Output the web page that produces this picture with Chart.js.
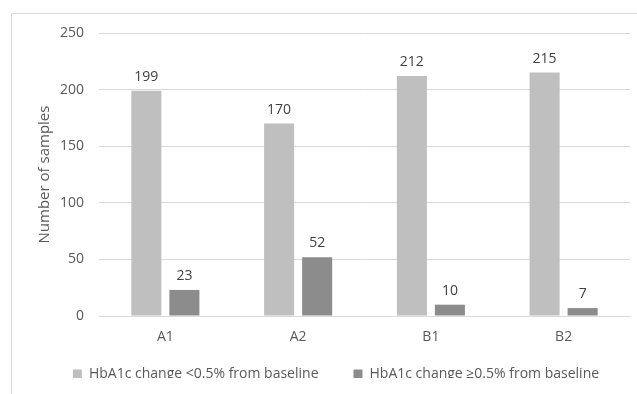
<!doctype html>
<html>
  <head>
    <title>HbA1c change by group</title>
    <style>
      body { margin: 0; background: #fff; }
      #wrap { position: relative; width: 637px; height: 394px; overflow: hidden; }
      #frame { position: absolute; left: 11px; top: 13px; width: 700px; height: 500px; border: 1px solid #d9d9d9; }
      #bar_chart { position: absolute; left: 0; top: 0; }
    </style>
  </head>
  <body>
    <div id="wrap">
      <div id="frame"></div>
      <canvas id="bar_chart" width="637" height="394"></canvas>
    </div>
  </body>
  <script src="https://cdn.jsdelivr.net/npm/chart.js"></script>
  <script>
    const categories = ['A1', 'A2', 'B1', 'B2'];
    const belowHalf = [199, 170, 212, 215];
    const aboveHalf = [23, 52, 10, 7];
    const yTicks = [0, 50, 100, 150, 200, 250];

    const textColor = '#595959';
    const fontFamily = "'Open Sans', 'Liberation Sans', sans-serif";

    // draws the number above each bar
    const valueLabels = {
      id: 'valueLabels',
      afterDatasetsDraw(chart) {
        const ctx = chart.ctx;
        ctx.save();
        ctx.font = '14px ' + fontFamily;
        ctx.fillStyle = '#404040';
        ctx.textAlign = 'center';
        ctx.textBaseline = 'alphabetic';
        chart.data.datasets.forEach((ds, i) => {
          chart.getDatasetMeta(i).data.forEach((bar, j) => {
            ctx.fillText(ds.data[j], bar.x, bar.y - 10);
          });
        });
        ctx.restore();
      }
    };

    // legend: keep wide spacing between items but less height, then nudge it
    const legendTweak = {
      id: 'legendTweak',
      beforeLayout(chart) {
        const lg = chart.legend;
        if (lg && !lg._tweaked) {
          const fit = lg.fit;
          lg.fit = function () {
            fit.call(this);
            this.height = 46;
          };
          lg._tweaked = true;
        }
      },
      afterLayout(chart) {
        const lg = chart.legend;
        lg.left += 21;
        lg.right += 21;
        lg.top -= 12;
        lg.bottom -= 12;
      }
    };

    Chart.defaults.font.family = fontFamily;
    Chart.defaults.color = textColor;

    const chart = new Chart(document.getElementById('bar_chart'), {
      type: 'bar',
      data: {
        labels: categories,
        datasets: [{
          label: 'HbA1c change <0.5% from baseline',
          data: belowHalf,
          backgroundColor: '#bfbfbf',
        }, {
          label: 'HbA1c change \u22650.5% from baseline',
          data: aboveHalf,
          backgroundColor: '#8c8c8c',
        }]
      },
      options: {
        responsive: false,
        animation: false,
        devicePixelRatio: 1,
        layout: { padding: { top: 33, right: 7, left: 0, bottom: 4 } },
        datasets: { bar: { categoryPercentage: 0.573, barPercentage: 0.79 } },
        plugins: {
          legend: {
            position: 'bottom',
            labels: { boxWidth: 9, boxHeight: 9, padding: 35, font: { size: 14 } }
          },
          tooltip: { enabled: false }
        },
        scales: {
          x: {
            grid: { display: false, drawTicks: false },
            border: { color: '#d9d9d9' },
            ticks: { font: { size: 14 }, padding: 13 },
            afterFit(scale) { scale.height = 28; }
          },
          y: {
            min: 0,
            max: 250,
            afterBuildTicks(axis) { axis.ticks = yTicks.map(v => ({ value: v })); },
            afterFit(scale) { scale.width = 99; },
            grid: { color: '#d9d9d9', drawTicks: false },
            border: { display: false },
            ticks: { font: { size: 14 }, padding: 15 },
            title: { display: true, text: 'Number of samples', font: { size: 15 }, padding: { top: 36, bottom: 0 } }
          }
        }
      },
      plugins: [valueLabels, legendTweak]
    });
  </script>
</html>
